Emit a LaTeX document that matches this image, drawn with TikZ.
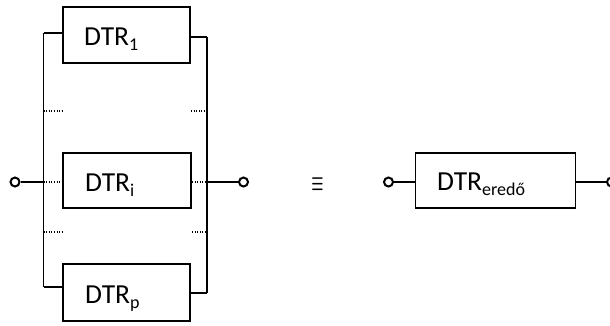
\documentclass[tikz,border=0pt]{standalone}
\usepackage{fontspec}
\usepackage{graphicx}
\setmainfont{Carlito}
\newcommand{\sbs}[1]{\raisebox{-0.19em}{\fontsize{18}{18}\selectfont #1}}
\begin{document}
\begin{tikzpicture}[x=1pt,y=-1pt,
  box/.style={draw,line width=1.9pt,inner sep=0pt},
  wire/.style={line width=1.8pt},
  dots/.style={line width=1.1pt,dash pattern=on 1pt off 1.6pt},
  term/.style={circle,draw,fill=white,line width=2pt,minimum size=9pt,inner sep=0pt},
  lbl/.style={anchor=base west,inner sep=0pt,font=\fontsize{27.5}{27.5}\selectfont}]
\useasboundingbox (0,0) rectangle (610,325);
% boxes
\node[box,minimum width=127pt,minimum height=56pt] (b1) at (126.5,35) {};
\node[box,minimum width=128pt,minimum height=55pt] (bi) at (127,180.5) {};
\node[box,minimum width=127pt,minimum height=57pt] (bp) at (126.5,292.5) {};
\node[box,minimum width=160pt,minimum height=55pt] (br) at (495.5,180.5) {};
% labels
\node[lbl] (t1) at (84,45.5) {DTR\sbs{1}};
\node[lbl] (ti) at (85,191) {DTR\sbs{i}};
\node[lbl] (tp) at (85,303) {DTR\sbs{p}};
\node[lbl] (tr) at (437,190.5) {DTR\sbs{eredő}};
% bus coordinates
\coordinate (lt) at (43.5,33);
\coordinate (lb) at (43.5,287);
\coordinate (lm) at (43.5,182);
\coordinate (rt) at (207,37);
\coordinate (rb) at (207,293);
\coordinate (rm) at (207,182);
\coordinate (ld1) at (43.5,111);
\coordinate (ld2) at (43.5,232);
\coordinate (rd1) at (207,111);
\coordinate (rd2) at (207,232);
% terminals
\node[term] (in) at (15,182) {};
\node[term] (out) at (243.5,182) {};
\node[term] (rin) at (388.5,182) {};
\node[term] (rout) at (611.5,182) {};
% buses
\draw[wire] (lt) -- (lb);
\draw[wire] (rt) -- (rb);
\draw[wire] (lt) -- (lt -| b1.west);
\draw[wire] (lb) -- (lb -| bp.west);
\draw[wire] (rt -| b1.east) -- (rt);
\draw[wire] (rb -| bp.east) -- (rb);
\draw[wire] (in) -- (lm);
\draw[wire] (rm) -- (out);
% dotted
\draw[dots] (lm) -- (lm -| bi.west);
\draw[dots] (rm -| bi.east) -- (rm);
\draw[dots] (ld1) -- (ld1 -| b1.west);
\draw[dots] (ld2) -- (ld2 -| b1.west);
\draw[dots] (rd1 -| b1.east) -- (rd1);
\draw[dots] (rd2 -| bi.east) -- (rd2);
% right side
\draw[wire] (rin) -- (rin -| br.west);
\draw[wire] (rout -| br.east) -- (rout);
\node[inner sep=0pt] (eq) at (317.5,184) {\scalebox{0.95}[1.75]{\fontsize{14}{14}\selectfont\boldmath$\equiv$}};
\end{tikzpicture}
\end{document}
